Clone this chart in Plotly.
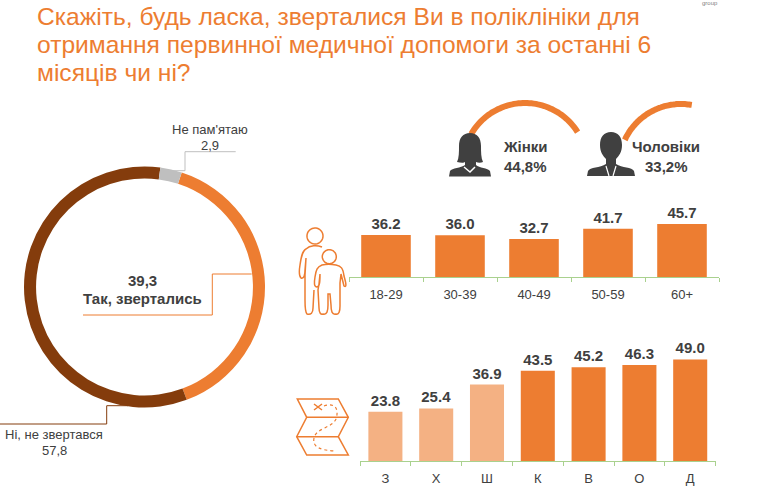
import numpy as np
import plotly.graph_objects as go

# Survey results
answer_labels = ["Так, зверталась", "Ні, не звертався", "Не пам'ятаю"]
answer_values = [39.3, 57.8, 2.9]
answer_colors = ["#ED7D31", "#843C0C", "#BFBFBF"]

age_groups = ["18-29", "30-39", "40-49", "50-59", "60+"]
age_values = [36.2, 36.0, 32.7, 41.7, 45.7]

region_names = ["З", "Х", "Ш", "К", "В", "О", "Д"]
region_values = [23.8, 25.4, 36.9, 43.5, 45.2, 46.3, 49.0]
region_colors = ["#F4B183", "#F4B183", "#F4B183", "#ED7D31", "#ED7D31", "#ED7D31", "#ED7D31"]

title_lines = [
    "Скажіть, будь ласка, зверталися Ви в поліклініки для",
    "отримання первинної медичної допомоги за останні 6",
    "місяців чи ні?",
]

W, H = 759, 499
ORANGE = "#ED7D31"
DARK = "#404040"
FONT = "Liberation Sans, Arial, sans-serif"


def fx(px):
    return px / W


def fy(px):
    return 1 - px / H


fig = go.Figure()

fig.add_trace(go.Pie(
    values=answer_values, labels=answer_labels, sort=False, direction="clockwise",
    rotation=18, hole=0.9, textinfo="none", showlegend=False,
    marker=dict(colors=answer_colors, line=dict(width=0)),
    domain=dict(x=[fx(24), fx(265)], y=[fy(407.5), fy(166.5)]),
))

fig.add_trace(go.Bar(
    x=age_groups, y=age_values, marker=dict(color=ORANGE, line=dict(width=0)),
    text=[f"{v:.1f}" for v in age_values], textposition="outside", cliponaxis=False,
    textfont=dict(family=FONT, size=15, color=DARK, weight="bold"),
    xaxis="x", yaxis="y", showlegend=False,
))
fig.add_trace(go.Bar(
    x=region_names, y=region_values, marker=dict(color=region_colors, line=dict(width=0)),
    text=[f"{v:.1f}" for v in region_values], textposition="outside", cliponaxis=False,
    textfont=dict(family=FONT, size=15, color=DARK, weight="bold"),
    xaxis="x2", yaxis="y2", showlegend=False,
))


def bar_xaxis(left, right, anchor):
    return dict(
        domain=[fx(left), fx(right)], anchor=anchor, showgrid=False, zeroline=False,
        showline=True, linecolor="#A9D18E", linewidth=1, ticks="outside",
        tickson="boundaries", ticklen=4, tickcolor="#A9D18E", fixedrange=True,
        ticklabelstandoff=5, tickfont=dict(family=FONT, size=13, color=DARK),
    )


def bar_yaxis(bottom, top, anchor):
    return dict(domain=[fy(bottom), fy(top)], anchor=anchor, range=[0, 50], visible=False)


# Arc decorations above the two gender blocks
def arc_path(cx, cy, r, start_deg, end_deg):
    angles = np.radians(np.linspace(start_deg, end_deg, 60))
    pts = [f"{cx + r * np.cos(a):.1f},{cy + r * np.sin(a):.1f}" for a in angles]
    return "M" + " L".join(pts)


def add_path(path, fill=None, line=None, width=1.5, dash=None):
    fig.add_shape(
        type="path", path=path, xref="x3", yref="y3", layer="above",
        fillcolor=fill if fill else "rgba(0,0,0,0)",
        line=dict(color=line if line else "rgba(0,0,0,0)", width=width if line else 0, dash=dash),
    )


def circle_path(cx, cy, r):
    angles = np.radians(np.linspace(0, 360, 40))
    pts = [f"{cx + r * np.cos(a):.1f},{cy + r * np.sin(a):.1f}" for a in angles]
    return "M" + " L".join(pts) + " Z"


add_path(arc_path(525, 165, 62, 210, 328), line=ORANGE, width=6)
add_path(arc_path(681, 166, 62, 205, 280), line=ORANGE, width=6)

# Woman silhouette
add_path("M470,133 C463,133 459,138 459,146 C459,152 459,158 457,162 C461,163 464,163 465,162 "
         "L465,165 C461,168 452,168 450,171 L449,176.5 L491,176.5 L490,171 C488,168 479,168 476,165 "
         "L476,162 C478,163 481,163 483,162 C481,158 481,152 481,146 C481,138 477,133 470,133 Z",
         fill=DARK)
add_path("M464,167 L470,172 L475,167", line="white", width=1.5)

# Man silhouette
add_path("M611,132 C604,132 600,137 600,145 C600,152 603,156 606,159 L606,164 C600,168 590,167 588,171 "
         "L587,176 L635,176 L634,171 C632,167 622,168 616,164 L616,159 C619,156 622,152 622,145 "
         "C622,137 618,132 611,132 Z", fill=DARK)
add_path("M606,166 L609,176 M616,166 L613,176", line="white", width=1.2)

# Adult and child outline
add_path(circle_path(315, 236, 8), line=ORANGE)
add_path("M322,247 C317,245 310,245 306,249 C302,251 301,258 300,265 C299,271 299,276 301,278 "
         "C304,279 305,275 305,270 L306,258 L305,275 L305,300 C305,308 306,313 307,314 "
         "C311,315 313,313 313,308 L314,290", line=ORANGE)
add_path(circle_path(329.3, 256.7, 7), line=ORANGE)
add_path("M318,290 L319,308 C319,313 321,315 323,314 C327,315 328,311 328,305 L328,294 L330,294 "
         "L331,305 C331,311 332,315 336,314 C339,315 340,311 340,306 L340,283 L341,274 L344,286 "
         "C347,288 346,283 344,276 C343,268 341,266 336,265 C331,264 326,264 322,265 C317,267 316,270 315,277 "
         "C314,283 314,287 317,287 C320,287 320,280 320,274 L319,284 Z", line=ORANGE)

# Folded route map
add_path("M297.3,399 L338.3,399 L348.3,417.3 L338.3,436.7 L348.3,455 L306.7,455 L296.7,436.7 L306.7,417.3 Z",
         line=ORANGE)
add_path("M306.7,417.3 L348.3,417.3 M296.7,436.7 L338.3,436.7", line=ORANGE)
add_path("M314,404 L322,410 M322,404 L314,410", line=ORANGE)
add_path("M324,406 C336,402 339,410 336,419 C332,428 316,428 314,438 C312,448 322,450 334,451",
         line=ORANGE, width=1.2, dash="dot")

# Leader lines for the ring labels
add_path("M235.7,151.7 L185,151.7 L185,170.7 L160,170.7", line="#BFBFBF", width=1)
add_path("M251.7,274 L212.3,274 L212.3,315 L83,315", line=ORANGE, width=1)
add_path("M0,424 L106.7,424 L106.7,405.7 L128,405.7", line="#843C0C", width=1)


def text(x, y, s, size=13, color=DARK, bold=False, xanchor="center"):
    fig.add_annotation(
        x=x, y=y, xref="x3", yref="y3", text=s, showarrow=False, xanchor=xanchor, yanchor="middle",
        font=dict(family=FONT, size=size, color=color, weight="bold" if bold else "normal"),
        borderpad=0, borderwidth=0,
    )


for line_text, y in zip(title_lines, [16, 44, 72]):
    text(36.5, y, line_text, size=24.6, color=ORANGE, xanchor="left")

text(210, 129, "Не пам'ятаю")
text(210, 145, f"{answer_values[2]:.1f}".replace(".", ","))
text(142, 280, f"{answer_values[0]:.1f}".replace(".", ","), size=15, bold=True)
text(142, 298, "Так, звертались", size=15, bold=True)
text(54, 434, "Ні, не звертався")
text(54, 450, f"{answer_values[1]:.1f}".replace(".", ","))
text(525, 146, "Жінки", size=15, bold=True)
text(525, 166, "44,8%", size=15, bold=True)
text(666, 146, "Чоловіки", size=15, bold=True)
text(666, 166, "33,2%", size=15, bold=True)
text(710, 3, "group", size=6, color="#7F7F7F")

fig.update_layout(
    width=W, height=H, margin=dict(l=0, r=0, t=0, b=0), autosize=False,
    paper_bgcolor="white", plot_bgcolor="rgba(0,0,0,0)", bargap=0.33,
    font=dict(family=FONT, color=DARK), showlegend=False,
    xaxis=bar_xaxis(349, 719, "y"),
    yaxis=bar_yaxis(277, 219, "x"),
    xaxis2=bar_xaxis(360, 715.6, "y2"),
    yaxis2=bar_yaxis(461.3, 357.3, "x2"),
    xaxis3=dict(domain=[0, 1], range=[0, W], visible=False, anchor="y3", fixedrange=True),
    yaxis3=dict(domain=[0, 1], range=[H, 0], visible=False, anchor="x3", fixedrange=True),
)

fig.write_html("out.html")
